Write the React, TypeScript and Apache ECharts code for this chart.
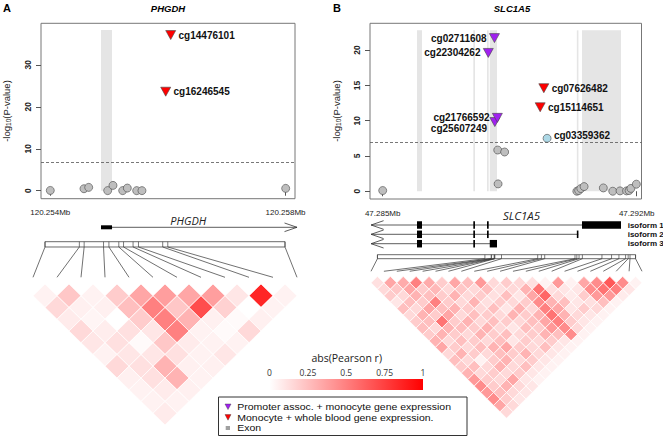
import React, { useEffect, useRef } from "react";
import * as echarts from "echarts";

// ================= DATA: panel A (PHGDH) =================
const aPos = [120.254, 120.254573, 120.254653, 120.254976, 120.255066, 120.255231, 120.25531, 120.255469, 120.255559, 120.255963, 120.256048, 120.258003];
const aLogP = [0.07, 0.48, 0.8, 0.03, 1.27, 0.03, 0.63, 0.02, 0.02, 23.6, 37.1, 0.56];
const aName = ["", "", "", "", "", "", "", "", "", "cg16246545", "cg14476101", ""];
const aClass = ["ns", "ns", "ns", "ns", "ns", "ns", "ns", "ns", "ns", "blood", "blood", "ns"];
const aGeneStart = [120.254862];
const aGeneEnd = [120.258196];
const aGeneStrand = ["+"];
const aGeneExons = [[[120.254862, 120.25505]]];
const aBands = [[120.254862, 120.25505]];
const aBandTop = 38.3;
const aThreshold = 6.9;
const aXTicks = [120.254, 120.258];
const aYTicks = [0, 10, 20, 30];
const aLdRows = [
  [0.05, 0.22, 0.05, 0.2, 0.35, 0.38, 0.35, 0.38, 0.1, 0.85, 0.05],
  [0.15, 0.06, 0.06, 0.25, 0.5, 0.22, 0.7, 0.18, 0.0, 0.05],
  [0.08, 0.04, 0.0, 0.2, 0.5, 0.3, 0.06, 0.02, 0.06],
  [0.15, 0.07, 0.12, 0.1, 0.5, 0.05, 0.02, 0.15],
  [0.1, 0.12, 0.02, 0.22, 0.08, 0.05, 0.05],
  [0.05, 0.1, 0.1, 0.12, 0.05, 0.1],
  [0.15, 0.12, 0.3, 0.06, 0.06],
  [0.06, 0.12, 0.3, 0.05],
  [0.05, 0.08, 0.06],
  [0.05, 0.05],
  [0.08],
];

// ================= DATA: panel B (SLC1A5) =================
const bPos = [47.285, 47.28791, 47.28808, 47.28809, 47.28816, 47.28817, 47.28818, 47.28836, 47.28934, 47.28944, 47.28953, 47.29035, 47.2904, 47.29046, 47.29055, 47.29108, 47.29134, 47.29154, 47.29172, 47.29179, 47.29184, 47.29199];
const bLogP = [0.1, 19.6, 21.7, 9.8, 10.4, 5.84, 1.04, 5.56, 11.9, 14.6, 7.5, 0.0, 0.1, 0.38, 0.66, 0.47, 0.0, 0.05, 0.05, 0.1, 0.4, 1.0];
const bName = ["", "cg22304262", "cg02711608", "cg25607249", "cg21766592", "", "", "", "cg15114651", "cg07626482", "cg03359362", "", "", "", "", "", "", "", "", "", "", ""];
const bClass = ["ns", "promoter", "promoter", "promoter", "promoter", "ns", "ns", "ns", "blood", "blood", "sig", "ns", "ns", "ns", "ns", "ns", "ns", "ns", "ns", "ns", "ns", "ns"];
const bGeneLabels = ["isoform 1", "isoform 2", "isoform 3"];
const bGeneStart = [47.28468, 47.28468, 47.28468];
const bGeneEnd = [47.291567, 47.29039, 47.28815];
const bGeneStrand = ["-", "-", "-"];
const bGeneExons = [
  [[47.285945, 47.286083], [47.287497, 47.287543], [47.287874, 47.287921], [47.290492, 47.291567]],
  [[47.285945, 47.286083], [47.287497, 47.287543], [47.287874, 47.287921], [47.29035, 47.29039]],
  [[47.285945, 47.286083], [47.287497, 47.287543], [47.28795, 47.28815]],
];
const bBands = [[47.285945, 47.286083], [47.287497, 47.287543], [47.287874, 47.287921], [47.28795, 47.28815], [47.29035, 47.29039], [47.290492, 47.291567]];
const bBandTop = 22.8;
const bThreshold = 7.0;
const bXTicks = [47.285, 47.292];
const bYTicks = [0, 5, 10, 15, 20];
const bLdRows = [
  [0.12, 0.35, 0.33, 0.5, 0.33, 0.2, 0.35, 0.25, 0.4, 0.15, 0.2, 0.15, 0.12, 0.05, 0.4, 0.05, 0.35, 0.45, 0.65, 0.45, 0.05],
  [0.15, 0.22, 0.35, 0.2, 0.28, 0.15, 0.22, 0.15, 0.25, 0.12, 0.15, 0.3, 0.55, 0.12, 0.1, 0.1, 0.45, 0.55, 0.5, 0.1],
  [0.2, 0.15, 0.3, 0.25, 0.2, 0.3, 0.15, 0.2, 0.12, 0.25, 0.1, 0.35, 0.6, 0.15, 0.08, 0.2, 0.4, 0.4, 0.08],
  [0.1, 0.25, 0.2, 0.5, 0.2, 0.15, 0.3, 0.12, 0.2, 0.15, 0.2, 0.45, 0.3, 0.25, 0.1, 0.12, 0.25, 0.05],
  [0.25, 0.15, 0.35, 0.25, 0.3, 0.2, 0.15, 0.25, 0.1, 0.3, 0.15, 0.5, 0.35, 0.1, 0.2, 0.15, 0.05],
  [0.15, 0.3, 0.2, 0.35, 0.15, 0.25, 0.2, 0.15, 0.3, 0.2, 0.3, 0.55, 0.3, 0.15, 0.1, 0.05],
  [0.2, 0.25, 0.55, 0.2, 0.3, 0.15, 0.25, 0.2, 0.15, 0.25, 0.35, 0.5, 0.2, 0.1, 0.05],
  [0.25, 0.15, 0.3, 0.25, 0.2, 0.3, 0.15, 0.1, 0.25, 0.2, 0.4, 0.45, 0.15, 0.05],
  [0.2, 0.3, 0.2, 0.15, 0.3, 0.2, 0.25, 0.15, 0.2, 0.3, 0.25, 0.45, 0.05],
  [0.3, 0.15, 0.25, 0.2, 0.15, 0.25, 0.1, 0.2, 0.15, 0.2, 0.1, 0.05],
  [0.35, 0.2, 0.15, 0.25, 0.3, 0.35, 0.2, 0.15, 0.25, 0.1, 0.05],
  [0.15, 0.3, 0.2, 0.15, 0.25, 0.2, 0.3, 0.15, 0.1, 0.05],
  [0.25, 0.15, 0.05, 0.2, 0.3, 0.15, 0.2, 0.1, 0.05],
  [0.2, 0.25, 0.15, 0.3, 0.15, 0.25, 0.1, 0.05],
  [0.3, 0.15, 0.2, 0.15, 0.2, 0.1, 0.05],
  [0.4, 0.2, 0.15, 0.35, 0.1, 0.05],
  [0.45, 0.2, 0.3, 0.15, 0.1],
  [0.4, 0.25, 0.15, 0.1],
  [0.45, 0.2, 0.1],
  [0.35, 0.15],
  [0.15],
];

// ================= legend / colour scale texts =================
const colorTicks = [0, 0.25, 0.5, 0.75, 1];
const colorTitle = "abs(Pearson r)";
const legendLabels = ["Promoter assoc. + monocyte gene expression", "Monocyte + whole blood gene expression.", "Exon"];

// ================= styles / layout =================
const FONT = '"Liberation Sans", Arial, sans-serif';
const FONT2 = '"Open Sans", "Liberation Sans", sans-serif';
const TRI = "path://M0,0L10,0L5,9Z";
const classStyle: Record<string, any> = {
  ns: { color: "#BEBEBE", symbol: "circle", size: 8 },
  sig: { color: "#ADD8E6", symbol: "circle", size: 8 },
  promoter: { color: "#A020F0", symbol: TRI, size: [10, 9] },
  blood: { color: "#FF0000", symbol: TRI, size: [10, 9] },
};
const labelPlace: Record<string, [string, number]> = {
  cg14476101: ["right", 0], cg16246545: ["right", 0],
  cg02711608: ["left", 0], cg22304262: ["left", 0], cg21766592: ["left", 0], cg25607249: ["left", 6.6],
  cg07626482: ["right", 0], cg15114651: ["right", 0], cg03359362: ["right", -3],
};

const panels = [
  {
    pos: aPos, logp: aLogP, names: aName, cls: aClass, bands: aBands, bandTop: aBandTop, thr: aThreshold,
    xTicks: aXTicks, yTicks: aYTicks, ld: aLdRows,
    gStart: aGeneStart, gEnd: aGeneEnd, gStrand: aGeneStrand, gExons: aGeneExons,
    L: {
      sc: { left: 41, top: 23.3, width: 254, height: 175.4 }, xMin: 120.253842, xMax: 120.2581616, yMin: -1.9, yMax: 39.9,
      tr: { top: 210, height: 30 }, rows: [17.3], exonH: 4,
      ldg: { left: 33, width: 264, top: 241.7, height: 188 }, ldYMax: 16, barBot: 0.45, lineEnd: 3.03, rowOff: 3.6,
    },
  },
  {
    pos: bPos, logp: bLogP, names: bName, cls: bClass, bands: bBands, bandTop: bBandTop, thr: bThreshold,
    xTicks: bXTicks, yTicks: bYTicks, ld: bLdRows,
    gStart: bGeneStart, gEnd: bGeneEnd, gStrand: bGeneStrand, gExons: bGeneExons,
    L: {
      sc: { left: 370, top: 23.3, width: 271.5, height: 175.7 }, xMin: 47.28465, xMax: 47.292132, yMin: -1.1, yMax: 23.8,
      tr: { top: 210, height: 40 }, rows: [15, 24.3, 33.7], exonH: 7.5,
      ldg: { left: 371, width: 271, top: 254.7, height: 167.7 }, ldYMax: 26, barBot: 0.62, lineEnd: 2.57, rowOff: 3.36,
    },
  },
];

function buildOption() {
  const grid: any[] = [];
  const xAxis: any[] = [];
  const yAxis: any[] = [];
  const series: any[] = [];

  panels.forEach((p, k) => {
    const L = p.L;
    const g0 = 3 * k, g1 = 3 * k + 1, g2 = 3 * k + 2;
    const n = p.pos.length;
    grid.push({ ...L.sc, show: true, borderColor: "#777", borderWidth: 1, backgroundColor: "transparent" });
    grid.push({ left: L.sc.left, width: L.sc.width, top: L.tr.top, height: L.tr.height });
    grid.push({ ...L.ldg });
    xAxis.push({
      type: "value", gridIndex: g0, min: L.xMin, max: L.xMax,
      axisLine: { show: false }, splitLine: { show: false },
      axisTick: { show: true, length: 5, lineStyle: { color: "#555" }, customValues: p.xTicks },
      axisLabel: { customValues: p.xTicks, formatter: (v: number) => v.toFixed(3) + "Mb", fontFamily: FONT, fontSize: 8, color: "#222", margin: 10 },
    });
    yAxis.push({
      type: "value", gridIndex: g0, min: L.yMin, max: L.yMax,
      axisLine: { show: false }, splitLine: { show: false },
      axisTick: { show: true, length: 5, lineStyle: { color: "#555" }, customValues: p.yTicks },
      axisLabel: { customValues: p.yTicks, rotate: 90, fontFamily: FONT, fontSize: 8.5, fontWeight: "bold", color: "#222", margin: 9 },
    });
    xAxis.push({ type: "value", gridIndex: g1, min: L.xMin, max: L.xMax, show: false });
    yAxis.push({ type: "value", gridIndex: g1, min: 0, max: L.tr.height, inverse: true, show: false });
    xAxis.push({ type: "value", gridIndex: g2, min: 0, max: n - 1, show: false });
    yAxis.push({ type: "value", gridIndex: g2, min: 0, max: L.ldYMax, inverse: true, show: false });

    // exon bands
    series.push({
      type: "custom", xAxisIndex: g0, yAxisIndex: g0, z: 1, silent: true,
      data: p.bands,
      renderItem: (params: any, api: any) => {
        const a = api.coord([api.value(0), 0]);
        const b = api.coord([api.value(1), p.bandTop]);
        const w = Math.max(b[0] - a[0], 1.6);
        return { type: "rect", shape: { x: a[0], y: b[1], width: w, height: a[1] - b[1] }, style: { fill: "#E5E5E5" } };
      },
    });

    // points by class
    ["ns", "sig", "promoter", "blood"].forEach((c, ci) => {
      const st = classStyle[c];
      const data: any[] = [];
      p.pos.forEach((x, i) => {
        if (p.cls[i] !== c) return;
        const nm = p.names[i];
        const item: any = { name: nm, value: [x, p.logp[i]] };
        if (nm && labelPlace[nm]) {
          const [side, dy] = labelPlace[nm];
          item.label = {
            show: true, position: side, distance: 2.5, formatter: "{b}", offset: [0, dy],
            fontFamily: FONT, fontWeight: "bold", fontSize: 10, color: "#111",
          };
        }
        data.push(item);
      });
      if (!data.length && ci !== 0) return;
      const s: any = {
        type: "scatter", xAxisIndex: g0, yAxisIndex: g0, z: 3, silent: true,
        symbol: st.symbol, symbolSize: st.size,
        itemStyle: { color: st.color, borderColor: "#444", borderWidth: 0.6, opacity: 1 },
        data,
      };
      if (ci === 0) {
        s.markLine = {
          silent: true, symbol: "none", label: { show: false },
          lineStyle: { type: [3, 2], color: "#555", width: 0.8 },
          data: [{ yAxis: p.thr }],
        };
      }
      series.push(s);
    });

    // gene track
    series.push({
      type: "custom", xAxisIndex: g1, yAxisIndex: g1, z: 4, silent: true,
      data: p.gStart.map((s, i) => [s, p.gEnd[i]]),
      renderItem: (params: any, api: any) => {
        const idx = params.dataIndex;
        const y = L.rows[idx];
        const a = api.coord([api.value(0), y]);
        const b = api.coord([api.value(1), y]);
        const ch: any[] = [
          { type: "line", shape: { x1: a[0], y1: a[1], x2: b[0], y2: b[1] }, style: { stroke: "#333", lineWidth: 0.8 } },
        ];
        const plus = p.gStrand[idx] === "+";
        const tip = plus ? b : a;
        const dir = plus ? -1 : 1;
        ch.push({
          type: "polyline",
          shape: { points: [[tip[0] + dir * 12.5, tip[1] - 4.3], [tip[0], tip[1]], [tip[0] + dir * 12.5, tip[1] + 4.3]] },
          style: { stroke: "#333", fill: "none", lineWidth: 0.8 },
        });
        p.gExons[idx].forEach(([s, e]: number[]) => {
          const c1 = api.coord([s, y]);
          const c2 = api.coord([e, y]);
          const w = Math.max(c2[0] - c1[0], 1.6);
          ch.push({ type: "rect", shape: { x: c1[0], y: c1[1] - L.exonH / 2, width: w, height: L.exonH }, style: { fill: "#000" } });
        });
        return { type: "group", children: ch };
      },
    });

    // CpG bar + connectors
    const p0 = p.pos[0], pN = p.pos[n - 1];
    series.push({
      type: "custom", xAxisIndex: g2, yAxisIndex: g2, z: 4, silent: true,
      data: [[0.5, n - 1.5]],
      renderItem: (params: any, api: any) => {
        const a = api.coord([api.value(0), 0]);
        const b = api.coord([api.value(1), L.barBot]);
        return { type: "rect", shape: { x: a[0], y: a[1], width: b[0] - a[0], height: b[1] - a[1] }, style: { fill: "#fff", stroke: "#444", lineWidth: 0.8 } };
      },
    });
    series.push({
      type: "custom", xAxisIndex: g2, yAxisIndex: g2, z: 5, silent: true,
      data: p.pos.map((x, i) => [i, x]),
      renderItem: (params: any, api: any) => {
        const kk = api.value(0);
        const u = 0.5 + ((api.value(1) - p0) / (pN - p0)) * (n - 2);
        const t = api.coord([u, 0]);
        const bb = api.coord([u, L.barBot]);
        const e = api.coord([kk, L.lineEnd]);
        return {
          type: "group",
          children: [
            { type: "line", shape: { x1: t[0], y1: t[1], x2: bb[0], y2: bb[1] }, style: { stroke: "#444", lineWidth: 0.7 } },
            { type: "line", shape: { x1: bb[0], y1: bb[1], x2: e[0], y2: e[1] }, style: { stroke: "#333", lineWidth: 0.7 } },
          ],
        };
      },
    });

    // correlation triangle
    const cells: number[][] = [];
    p.ld.forEach((row, r) => row.forEach((v, i) => cells.push([i, i + r + 1, v])));
    series.push({
      type: "custom", xAxisIndex: g2, yAxisIndex: g2, z: 3, silent: true,
      data: cells,
      renderItem: (params: any, api: any) => {
        const i = api.value(0), j = api.value(1), v = api.value(2);
        const cx = (i + j) / 2, cy = L.rowOff + (j - i);
        const pts = [api.coord([cx, cy - 1]), api.coord([cx + 0.5, cy]), api.coord([cx, cy + 1]), api.coord([cx - 0.5, cy])];
        const c = Math.round(255 * (1 - v));
        return { type: "polygon", shape: { points: pts }, style: { fill: `rgb(255,${c},${c})`, stroke: "#fff", lineWidth: 0.7 } };
      },
    });
  });

  const ylab = (x: number) => ({
    type: "text", x, y: 111, rotation: Math.PI / 2,
    style: {
      text: "{a|-log}{b|10}{a|(P-value)}", align: "center", verticalAlign: "middle", fill: "#222",
      rich: { a: { fontFamily: FONT, fontSize: 9.5, fill: "#222", lineHeight: 12 }, b: { fontFamily: FONT, fontSize: 6.5, fill: "#222", lineHeight: 12, padding: [5, 0, 0, 0] } },
    },
  });
  const cbX0 = 269.5, cbW = 153.5;
  const legY0 = 406.8, legDy = 10.6;
  const graphic: any[] = [
    { type: "text", x: 3, y: 8, style: { text: "A", fontFamily: FONT, fontWeight: "bold", fontSize: 11, fill: "#000", verticalAlign: "middle" } },
    { type: "text", x: 333, y: 8, style: { text: "B", fontFamily: FONT, fontWeight: "bold", fontSize: 11, fill: "#000", verticalAlign: "middle" } },
    { type: "text", x: 168, y: 8, style: { text: "PHGDH", fontFamily: FONT, fontWeight: "bold", fontStyle: "italic", fontSize: 9.5, fill: "#000", align: "center", verticalAlign: "middle" } },
    { type: "text", x: 512, y: 8, style: { text: "SLC1A5", fontFamily: FONT, fontWeight: "bold", fontStyle: "italic", fontSize: 9.5, fill: "#000", align: "center", verticalAlign: "middle" } },
    ylab(6),
    ylab(336),
    { type: "text", x: 188.3, y: 220, style: { text: "PHGDH", fontFamily: FONT2, fontStyle: "italic", fontSize: 11, fill: "#222", align: "center", verticalAlign: "middle" } },
    { type: "text", x: 521.5, y: 215.5, style: { text: "SLC1A5", fontFamily: FONT2, fontStyle: "italic", fontSize: 11.5, fill: "#222", align: "center", verticalAlign: "middle" } },
    ...bGeneLabels.map((t, i) => ({
      type: "text", x: 627.7, y: panels[1].L.tr.top + panels[1].L.rows[i],
      style: { text: t, fontFamily: FONT, fontWeight: "bold", fontSize: 8, fill: "#111", verticalAlign: "middle" },
    })),
    { type: "text", x: 346.7, y: 358.3, style: { text: colorTitle, fontFamily: FONT2, fontSize: 10.5, fill: "#222", align: "center", verticalAlign: "middle" } },
    {
      type: "rect", shape: { x: cbX0, y: 379, width: cbW, height: 11 },
      style: { fill: new echarts.graphic.LinearGradient(0, 0, 1, 0, [{ offset: 0, color: "#ffffff" }, { offset: 1, color: "#ff0000" }]) },
    },
    ...colorTicks.map((v) => ({
      type: "text", x: cbX0 + v * cbW, y: 372.7,
      style: { text: String(v), fontFamily: FONT2, fontSize: 8.5, fill: "#333", align: "center", verticalAlign: "middle" },
    })),
    { type: "rect", shape: { x: 218.5, y: 397, width: 248.5, height: 38.5 }, style: { fill: "#fff", stroke: "#333", lineWidth: 1 }, z: 10 },
    { type: "polygon", shape: { points: [[225, legY0 - 2.8], [231, legY0 - 2.8], [228, legY0 + 2.8]] }, style: { fill: "#A020F0", stroke: "#333", lineWidth: 0.4 }, z: 11 },
    { type: "polygon", shape: { points: [[225, legY0 + legDy - 2.8], [231, legY0 + legDy - 2.8], [228, legY0 + legDy + 2.8]] }, style: { fill: "#FF0000", stroke: "#333", lineWidth: 0.4 }, z: 11 },
    { type: "rect", shape: { x: 225.7, y: legY0 + 2 * legDy - 2, width: 4.3, height: 4 }, style: { fill: "#A0A0A0" }, z: 11 },
    ...legendLabels.map((t, i) => ({
      type: "text", x: 237.3, y: legY0 + i * legDy, z: 11, scaleY: 0.85,
      style: { text: t, fontFamily: FONT, fontSize: 10.5, lineHeight: 10, fill: "#111", verticalAlign: "middle" },
    })),
  ];

  return { animation: false, backgroundColor: "#fff", grid, xAxis, yAxis, series, graphic };
}

export default function App() {
  const ref = useRef<HTMLDivElement>(null);
  useEffect(() => {
    const chart = echarts.init(ref.current!, null, { renderer: "svg" });
    chart.setOption(buildOption() as any);
    return () => chart.dispose();
  }, []);
  return <div ref={ref} style={{ position: "fixed", left: 0, top: 0, width: 663, height: 437, background: "#fff" }} />;
}
